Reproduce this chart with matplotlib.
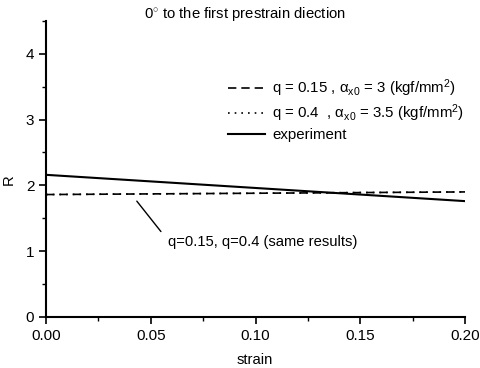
import matplotlib
matplotlib.use("Agg")
import matplotlib.pyplot as plt
from matplotlib.ticker import MultipleLocator, FormatStrFormatter

plt.rcParams["font.family"] = ["Liberation Sans", "DejaVu Sans"]
plt.rcParams["mathtext.fontset"] = "custom"
plt.rcParams["mathtext.rm"] = "Liberation Sans"
plt.rcParams["mathtext.it"] = "Liberation Sans"

# 예측값 (두 q 값이 같은 결과) 과 실험값
strain = [0.0, 0.20]
R_q015 = [1.86, 1.90]
R_q04 = [1.86, 1.90]
R_exp = [2.16, 1.76]

LABELS = [
    r"q = 0.15 , α$_{\mathrm{x0}}$ = 3 (kgf/mm$^{\mathrm{2}}$)",
    r"q = 0.4  , α$_{\mathrm{x0}}$ = 3.5 (kgf/mm$^{\mathrm{2}}$)",
    "experiment",
]

fig = plt.figure(figsize=(4.8, 3.68), dpi=100)
ax = fig.add_axes([0.096, 0.139, 0.873, 0.804])

ax.plot(strain, R_q015, color="black", linestyle=(0, (5, 3)), linewidth=1.2, label=LABELS[0])
ax.plot(strain, R_q04, color="black", linestyle=(0, (1, 3)), linewidth=1.2, label=LABELS[1])
ax.plot(strain, R_exp, color="black", linestyle="-", linewidth=1.5, label=LABELS[2])

ax.annotate("q=0.15, q=0.4 (same results)", xy=(0.0433, 1.76), xytext=(0.0582, 1.14),
            fontsize=10.6, va="center", ha="left",
            arrowprops=dict(arrowstyle="-", color="black", lw=1.0,
                            shrinkA=5, shrinkB=0, relpos=(0, 0.6)))

ax.set_xlim(0, 0.20)
ax.set_ylim(0, 4.5)
ax.xaxis.set_major_locator(MultipleLocator(0.05))
ax.xaxis.set_minor_locator(MultipleLocator(0.025))
ax.xaxis.set_major_formatter(FormatStrFormatter("%.2f"))
ax.yaxis.set_major_locator(MultipleLocator(1))
ax.yaxis.set_minor_locator(MultipleLocator(0.5))

ax.spines[["top", "right"]].set_visible(False)
ax.spines[["left", "bottom"]].set_linewidth(1.5)
ax.tick_params(which="major", direction="out", length=5, width=1.2, labelsize=11)
ax.tick_params(which="minor", direction="out", length=3, width=1.0)

ax.set_xlabel("strain", fontsize=10.6)
ax.set_ylabel("R", fontsize=10.6)
ax.xaxis.set_label_coords(0.499, -0.122)
ax.yaxis.set_label_coords(-0.072, 0.463)
ax.text(0.475, 1.024, r"0$^{\circ}$ to the first prestrain diection", transform=ax.transAxes,
        fontsize=10.7, ha="center", va="center")

ax.legend(loc="upper left", bbox_to_anchor=(0.434, 0.81), frameon=False, fontsize=10.8,
          handlelength=2.5, handletextpad=0.45, labelspacing=0.25, borderpad=0,
          borderaxespad=0)

fig.savefig("out.png", dpi=100)
